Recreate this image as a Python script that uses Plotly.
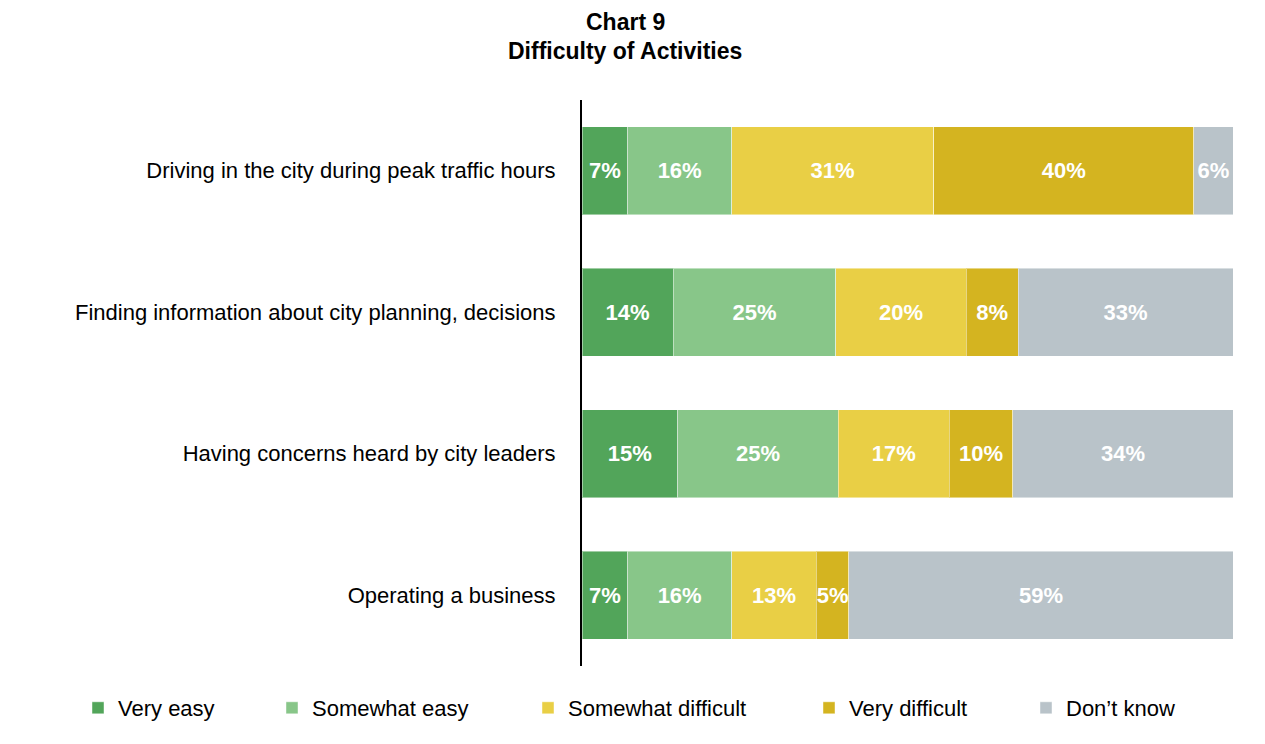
import plotly.graph_objects as go

categories = [
    "Driving in the city during peak traffic hours",
    "Finding information about city planning, decisions",
    "Having concerns heard by city leaders",
    "Operating a business",
]
series_names = ["Very easy", "Somewhat easy", "Somewhat difficult", "Very difficult", "Don\u2019t know"]
very_easy = [7, 14, 14.7, 7]
somewhat_easy = [16, 25, 24.7, 16]
somewhat_difficult = [31, 20, 17.0, 13]
very_difficult = [40, 8, 9.8, 5]
dont_know = [6, 33, 33.8, 59]

colors = ["#52A55A", "#88C689", "#E9CF45", "#D4B420", "#B9C3C9"]
FONT = "Liberation Sans, Arial, sans-serif"

# page body adds 8px margin, so the figure is 8px smaller than the window
W, H = 1257, 736
L, R, T, B = 574, 32, 92, 78
pw, ph = W - L - R, H - T - B


def px_x(x):
    return (x - L) / pw


def px_y(y):
    return (H - B - y) / ph


fig = go.Figure()
# where each legend text starts (px)
legend_px = [110, 304, 560, 841, 1058]
legend_ids = ["legend", "legend2", "legend3", "legend4", "legend5"]

for i, (name, vals) in enumerate(zip(series_names, [very_easy, somewhat_easy, somewhat_difficult,
                                                     very_difficult, dont_know])):
    fig.add_trace(go.Bar(
        y=categories, x=vals, name=name, orientation="h",
        marker=dict(color=colors[i], line=dict(color="rgba(255,255,255,0.45)", width=1)),
        texttemplate="%{x:.0f}%", textposition="inside", insidetextanchor="middle",
        textangle=0, constraintext="none",
        textfont=dict(family=FONT, size=22, color="white", weight="bold"),
        legend=legend_ids[i], showlegend=True, hoverinfo="skip",
    ))

layout_legends = {}
for i, lid in enumerate(legend_ids):
    layout_legends[lid] = dict(
        x=px_x(legend_px[i] - 40), xanchor="left",
        y=px_y(700), yanchor="middle",
        orientation="h", font=dict(family=FONT, size=22, color="black"),
        bgcolor="rgba(0,0,0,0)", itemclick=False, visible=True,
    )

fig.update_layout(
    width=W, height=H, showlegend=True,
    barmode="stack", bargap=0.378,
    margin=dict(l=L, r=R, t=T, b=B),
    paper_bgcolor="white", plot_bgcolor="white",
    font=dict(family=FONT, size=22, color="black"),
    xaxis=dict(range=[0, 100], visible=False, fixedrange=True),
    yaxis=dict(categoryorder="array", categoryarray=categories[::-1],
               showline=True, linecolor="black", linewidth=2,
               ticks="", ticklabelstandoff=20, automargin=False,
               tickfont=dict(family=FONT, size=22, color="black")),
    annotations=[
        dict(text="<b>Chart 9</b>", x=px_x(617), y=px_y(0), xref="paper", yref="paper",
             xanchor="center", yanchor="top", showarrow=False, borderpad=0,
             font=dict(family=FONT, size=23, color="black")),
        dict(text="<b>Difficulty of Activities</b>", x=px_x(617), y=px_y(43),
             xref="paper", yref="paper", xanchor="center", yanchor="middle",
             showarrow=False, font=dict(family=FONT, size=23, color="black")),
    ],
    **layout_legends,
)

fig.write_html("out.html")
